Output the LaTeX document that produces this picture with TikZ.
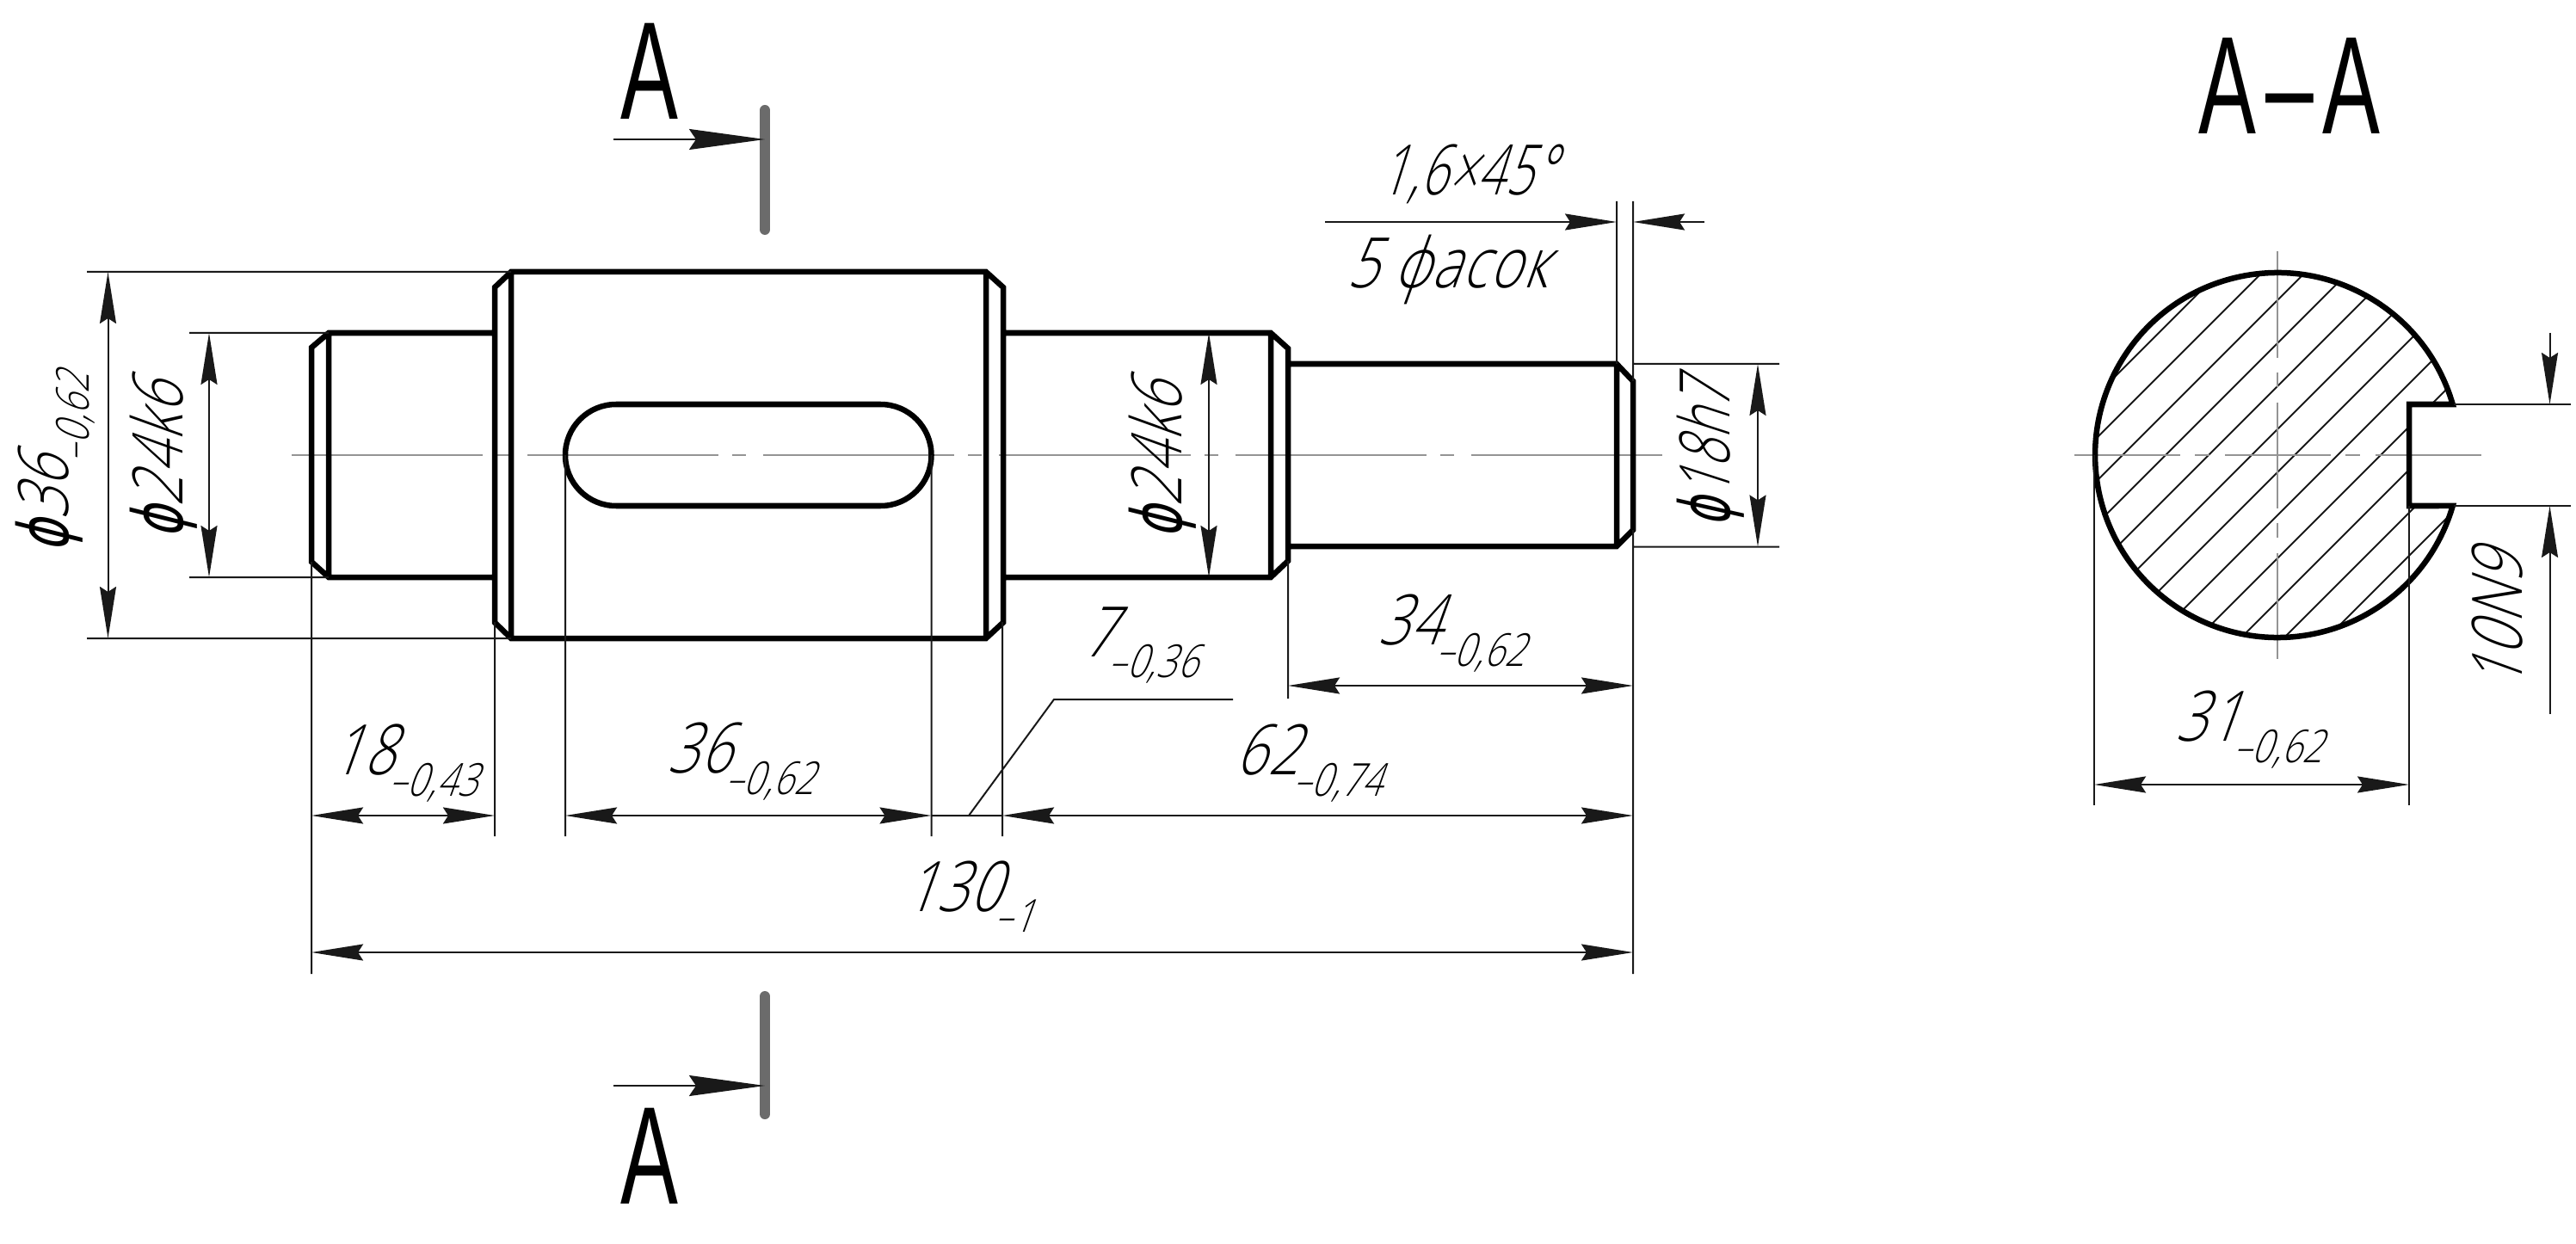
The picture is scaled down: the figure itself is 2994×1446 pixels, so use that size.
\documentclass[tikz,border=0pt]{standalone}
\usepackage{fontspec}
\usetikzlibrary{arrows.meta}
\newfontfamily\gostfont[UprightFont={* Light},FakeStretch=0.78,FakeSlant=0.36,LetterSpace=2]{Open Sans}
\newfontfamily\gostsym[FakeStretch=0.7,FakeSlant=0.25]{DejaVu Sans}
\newfontfamily\gostup[FakeStretch=0.62]{Liberation Sans}
\newcommand{\dimtol}[2]{#1\kern-2pt\lower 7pt\hbox{\fontsize{15}{15}\selectfont –#2}}
\newcommand{\dia}{{\gostsym ϕ}}
\tikzset{
    contour/.style={line width=0.065cm,line join=miter,black},
    thinline/.style={line width=0.02cm,black!90},
    axisline/.style={line width=0.02cm,black!42},
    cutline/.style={line width=0.12cm,line cap=round,black!58},
    dimline/.style={thinline,{Stealth[length=0.6cm,width=0.19cm,inset=0.06cm]}-{Stealth[length=0.6cm,width=0.19cm,inset=0.06cm]}},
    dimout/.style={thinline,-{Stealth[length=0.6cm,width=0.19cm,inset=0.06cm]}},
    cutarrow/.style={thinline,-{Stealth[length=0.88cm,width=0.24cm,inset=0.08cm]}},
    dimtext/.style={inner sep=0,font=\fontsize{23}{24}\gostfont},
    cuttext/.style={inner sep=0,font=\fontsize{46}{48}\gostup},
}
\begin{document}
\begin{tikzpicture}[x=0.01cm,y=-0.01cm]
    \useasboundingbox (0,0) rectangle (2994,1446);

    \draw[axisline,dash pattern=on 2.22cm off 0.16cm on 0.16cm off 0.2cm]
        (339,529) -- (1934,529);
    \draw[contour]
        (594,316) -- (575,334) -- (575,723.5) -- (594,742) -- (1146,742)
        -- (1166,723.5) -- (1166,334) -- (1146,316) -- cycle
        (594,316) -- (594,742)
        (1146,316) -- (1146,742)
        (575,387) -- (382,387) -- (362,404) -- (362,653) -- (382,671) -- (575,671)
        (382,387) -- (382,671)
        (1166,387) -- (1477,387) -- (1497,405) -- (1497,652) -- (1477,671) -- (1166,671)
        (1477,387) -- (1477,671)
        (1497,423) -- (1879,423) -- (1898,443) -- (1898,616) -- (1879,635) -- (1497,635)
        (1879,423) -- (1879,635)
        (716,470) -- (1023.5,470) arc (-90:90:59) -- (716,588) arc (90:270:59) -- cycle
        ;

    \draw[thinline]
        (101,316) -- (594,316)
        (101,742) -- (594,742)
        (220,387) -- (382,387)
        (220,671) -- (382,671)
        (362,653) -- (362,1132)
        (575,723) -- (575,972)
        (657,529) -- (657,972)
        (1082.5,529) -- (1082.5,972)
        (1165,723) -- (1165,972)
        (1497,652) -- (1497,812)
        (1879,234) -- (1879,423)
        (1898,234) -- (1898,443)
        (1898,616) -- (1898,1132)
        (1898,423) -- (2068,423)
        (1898,635.5) -- (2068,635.5)
        (1082.5,948) -- (1165,948)
        (1126,948) -- (1225,813) -- (1433,813)
        ;

    \draw[dimline] (125.5,316) -- (125.5,742);
    \draw[dimline] (243,387) -- (243,671);
    \draw[dimline] (1405,387) -- (1405,671);
    \draw[dimline] (2043,423) -- (2043,635.5);
    \draw[dimline] (362,948) -- (575,948);
    \draw[dimline] (657,948) -- (1082.5,948);
    \draw[dimline] (1165,948) -- (1898,948);
    \draw[dimline] (1497,797) -- (1898,797);
    \draw[dimline] (362,1107) -- (1898,1107);
    \draw[dimout] (1540,258) -- (1879,258);
    \draw[dimout] (1981,258) -- (1898,258);

    \draw[cutline] (889,128) -- (889,267);
    \draw[cutline] (889,1158) -- (889,1295);
    \draw[cutarrow] (713,162) -- (889,162);
    \draw[cutarrow] (713,1262) -- (889,1262);

    \begin{scope}
        \clip (2850.7,470) arc (-16.16:-343.84:212) -- (2800,588) -- (2800,470) -- cycle;
        \foreach \c in {2896,2946,...,3446}
            \draw[thinline] ({\c-800},800) -- ({\c-200},200);
    \end{scope}
    \draw[axisline,dash pattern=on 1.23cm off 0.17cm on 0.17cm off 0.18cm]
        (2411,529) -- (2884,529);
    \draw[axisline,dash pattern=on 1.23cm off 0.17cm on 0.17cm off 0.18cm]
        (2647,292.5) -- (2647,766);
    \draw[contour]
        (2850.7,470) arc (-16.16:-343.84:212) -- (2800,588) -- (2800,470) -- cycle;
    \draw[thinline]
        (2852,470) -- (2988,470)
        (2852,588) -- (2988,588)
        (2434,529) -- (2434,936)
        (2800,588) -- (2800,936)
        ;
    \draw[dimline] (2434,912) -- (2800,912);
    \draw[dimout] (2963.5,387) -- (2963.5,470);
    \draw[dimout] (2963.5,830) -- (2963.5,588);

    \node[dimtext,rotate=90] (diaA) at (64,538) {\dia\dimtol{36}{0,62}};
    \node[dimtext,rotate=90] (diaB) at (190,536) {\dia 24k6};
    \node[dimtext,rotate=90] (diaC) at (1351,536) {\dia 24k6};
    \node[dimtext,rotate=90,xscale=0.9] (diaD) at (1988,528) {\dia 18h7};
    \node[dimtext,xscale=0.88] (chamfer) at (1705,202) {1,6×45°};
    \node[dimtext] (chamfercount) at (1682,313) {5 фасок};
    \node[dimtext] (lenA) at (470,887) {\dimtol{18}{0,43}};
    \node[dimtext] (lenB) at (861,885) {\dimtol{36}{0,62}};
    \node[dimtext] (lenC) at (1126,1042) {\dimtol{130}{1}};
    \node[dimtext] (lenD) at (1521,887) {\dimtol{62}{0,74}};
    \node[dimtext] (lenE) at (1687,736) {\dimtol{34}{0,62}};
    \node[dimtext] (lenF) at (1325,750) {\dimtol{7}{0,36}};
    \node[dimtext] (lenG) at (2614,848) {\dimtol{31}{0,62}};
    \node[dimtext,rotate=90] (keywidth) at (2903,722) {10N9};
    \node[cuttext] (cutA) at (755,83) {A};
    \node[cuttext] (cutB) at (755,1344) {A};
    \node[cuttext] (cutname) at (2661,100) {A\kern 3pt–\kern 3pt A};
\end{tikzpicture}
\end{document}
